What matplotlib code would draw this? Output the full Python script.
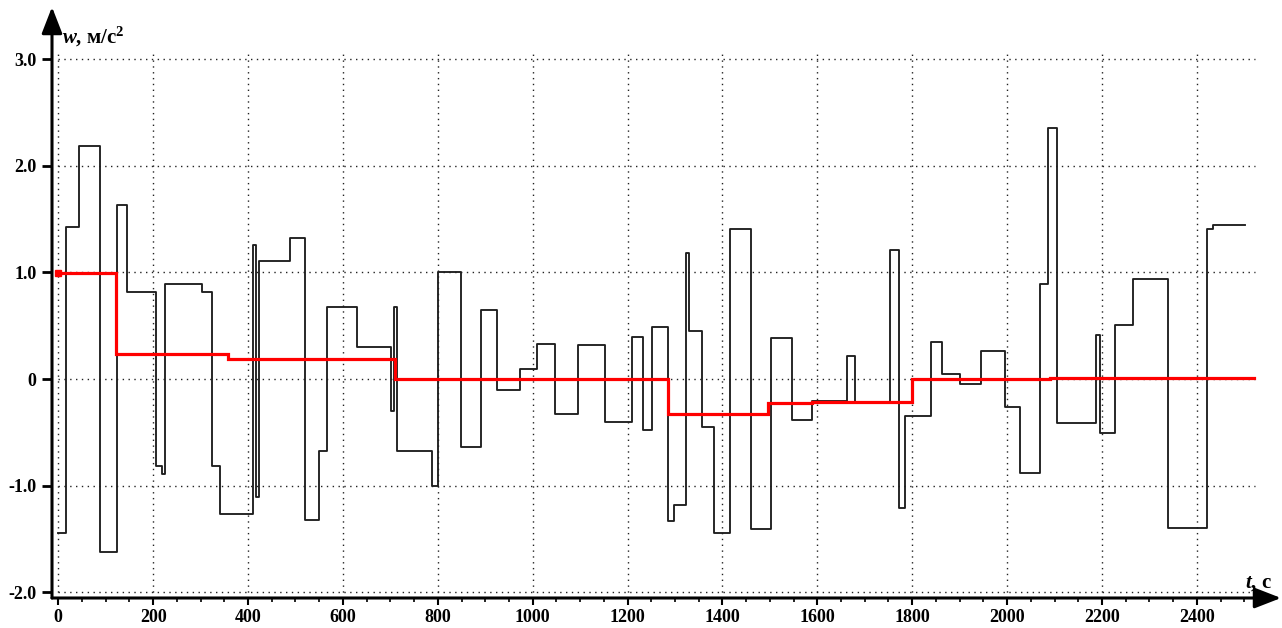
import matplotlib
matplotlib.use("Agg")
import matplotlib.pyplot as plt
import numpy as np

# ---- data ----
black_t = [0, 15.6, 44, 88.5, 124.4, 145.4, 206.5, 218.5, 225.5, 302, 324, 340.8,
           409.6, 416.6, 422.3, 489, 520.6, 548.7, 567, 630, 700.5, 707.5, 714.5,
           786.9, 800.8, 849.3, 890.8, 923.9, 973.7, 1009.5, 1047.4, 1095.3, 1153,
           1208.4, 1233, 1252, 1284.3, 1297.6, 1322.8, 1329.9, 1357.3, 1382, 1415.6,
           1459.2, 1502.7, 1545.6, 1589, 1662, 1679, 1753.4, 1772.4, 1784.4, 1839,
           1862.4, 1901.8, 1944, 1995.8, 2026.8, 2070.4, 2085.8, 2104.7, 2187.6, 2196,
           2227, 2265.6, 2339.4, 2422.3, 2435, 2502]
black_w = [-1.44, 1.43, 2.19, -1.62, 1.63, 0.82, -0.82, -0.89, 0.89, 0.82, -0.82, -1.27,
           1.26, -1.11, 1.11, 1.32, -1.32, -0.68, 0.68, 0.30, -0.30, 0.68, -0.68,
           -1.00, 1.00, -0.64, 0.65, -0.10, 0.09, 0.33, -0.33, 0.32, -0.40,
           0.39, -0.48, 0.49, -1.33, -1.18, 1.18, 0.45, -0.45, -1.44, 1.41,
           -1.41, 0.38, -0.38, -0.21, 0.22, -0.22, 1.21, -1.21, -0.35, 0.35,
           0.05, -0.05, 0.26, -0.26, -0.88, 0.89, 2.35, -0.41, 0.41, -0.51,
           0.51, 0.94, -1.40, 1.41, 1.44]

red_t = [0, 121.6, 357, 709.6, 1284.3, 1495.7, 1589, 1800, 2090, 2520]
red_w = [0.99, 0.23, 0.19, 0.0, -0.33, -0.225, -0.215, 0.0, 0.01]

x_ticks = list(range(0, 2401, 200))
x_labels = [str(v) for v in x_ticks]
y_ticks = [-2, -1, 0, 1, 2, 3]
y_labels = ["-2.0", "-1.0", "0", "1.0", "2.0", "3.0"]

# ---- style ----
plt.rcParams['mathtext.fontset'] = 'custom'
plt.rcParams['mathtext.it'] = 'Liberation Serif:italic:bold'
plt.rcParams['mathtext.rm'] = 'Liberation Serif:bold'
plt.rcParams['mathtext.bf'] = 'Liberation Serif:bold'

W, H = 1282, 628
fig = plt.figure(figsize=(W / 100, H / 100), dpi=100)
ax_l, ax_r, ax_t, ax_b = 52, 1268, 22, 598
ax = fig.add_axes([ax_l / W, (H - ax_b) / H, (ax_r - ax_l) / W, (ax_b - ax_t) / H])

x0, xs = 58.3, 0.4745
y0, ys = 379.0, 106.6
ax.set_xlim((ax_l - x0) / xs, (ax_r - x0) / xs)
ax.set_ylim((y0 - ax_b) / ys, (y0 - ax_t) / ys)

for s in ax.spines.values():
    s.set_visible(False)

# grid (dotted)
gkw = dict(color='#222222', lw=1.0, linestyle=(0, (1, 3.2)), zorder=1)
ax.vlines(x_ticks, -2.05, 3.07, **gkw)
ax.hlines(y_ticks, 0, 2522, **gkw)

# black step line
bx = black_t
by = black_w + [black_w[-1]]
ax.plot(bx, by, drawstyle='steps-post', color='#1e1e1e', lw=1.35, zorder=3)

# red step line
rx = red_t
ry = red_w + [red_w[-1]]
ax.plot(rx, ry, drawstyle='steps-post', color='#ff0000', lw=2.3, zorder=4,
        solid_joinstyle='miter')
ax.plot([red_t[0]], [red_w[0]], marker='s', color='#ff0000', ms=5, zorder=5)

# ticks
ax.set_xticks(x_ticks)
ax.set_xticklabels(x_labels)
ax.set_xticks(np.arange(0, 2551, 50), minor=True)
ax.set_yticks(y_ticks)
ax.set_yticklabels(y_labels)
for lab in ax.get_xticklabels() + ax.get_yticklabels():
    lab.set_fontfamily('Liberation Serif')
    lab.set_fontweight('bold')
    lab.set_fontsize(13)
ax.tick_params(axis='x', which='major', direction='out', length=5, width=1.5, pad=3, color='black')
ax.tick_params(axis='x', which='minor', direction='out', length=3, width=1.2, color='black')
ax.tick_params(axis='y', which='major', direction='out', length=7, width=2, pad=4, color='black')

# axis arrows
akw = dict(arrowstyle='-|>,head_length=0.9,head_width=0.35', lw=2.2, color='black',
           mutation_scale=18, shrinkA=0, shrinkB=0)
fig.add_artist(matplotlib.patches.FancyArrowPatch((ax_l / W, (H - ax_b) / H), (ax_l / W, (H - 7) / H),
                                                  transform=fig.transFigure, **akw))
fig.add_artist(matplotlib.patches.FancyArrowPatch((ax_l / W, (H - ax_b) / H), (1281 / W, (H - ax_b) / H),
                                                  transform=fig.transFigure, **akw))

# axis labels
fig.text(62 / W, (H - 43) / H, r'$w$, м/с$^{2}$', family='Liberation Serif', weight='bold',
         size=15, ha='left', va='baseline')
fig.text(1245 / W, (H - 588) / H, r'$t$, с', family='Liberation Serif', weight='bold',
         size=15, ha='left', va='baseline')

fig.savefig('out.png', dpi=100)
